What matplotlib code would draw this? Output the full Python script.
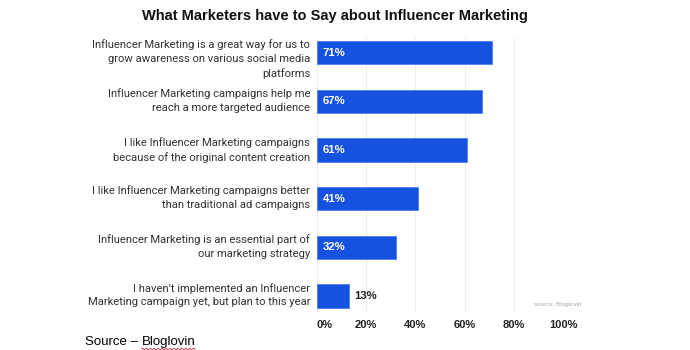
import numpy as np
import matplotlib
matplotlib.use("Agg")
import matplotlib.pyplot as plt

# survey answers, top to bottom
answers = [
    "Influencer Marketing is a great way for us to\ngrow awareness on various social media\nplatforms",
    "Influencer Marketing campaigns help me\nreach a more targeted audience",
    "I like Influencer Marketing campaigns\nbecause of the original content creation",
    "I like Influencer Marketing campaigns better\nthan traditional ad campaigns",
    "Influencer Marketing is an essential part of\nour marketing strategy",
    "I haven\u2019t implemented an Influencer\nMarketing campaign yet, but plan to this year",
]
shares = [71, 67, 61, 41, 32, 13]
xticks = [0, 20, 40, 60, 80, 100]
xtick_labels = ["0%", "20%", "40%", "60%", "80%", "100%"]

narrow = ["Roboto", "Liberation Sans", "DejaVu Sans"]
plain = ["Liberation Sans", "DejaVu Sans"]
bar_color = "#1652e0"

fig = plt.figure(figsize=(6.9, 3.5), dpi=100)
fig.set_facecolor("white")
ax = fig.add_axes([0.4594, 0.1057, 0.3565, 0.7857])

y = np.arange(len(shares))
ax.barh(y, shares, height=0.48, color=bar_color, edgecolor="#4d7fee",
        linewidth=0.6, zorder=3)

ax.set_xlim(0, 100)
ax.set_ylim(5.35, -0.3)
ax.set_xticks(xticks)
ax.set_xticklabels(xtick_labels, fontsize=8, fontweight="bold",
                   color="#222222", family=plain)
ax.get_xticklabels()[0].set_ha("left")
ax.set_yticks([])
ax.tick_params(axis="x", length=0, pad=5)
ax.grid(axis="x", color="#eeeeee", linewidth=0.8, zorder=0)
for s in ax.spines.values():
    s.set_visible(False)

for i, (label, v) in enumerate(zip(answers, shares)):
    ax.text(-2.8, i - 0.27, label, ha="right", va="top", fontsize=8.1,
            color="#333333", family=narrow, linespacing=1.45)
    if v >= 20:
        ax.text(2.3, i, f"{v}%", ha="left", va="center", fontsize=8.2,
                fontweight="bold", color="white", family=plain, zorder=4)
    else:
        ax.text(v + 2.3, i, f"{v}%", ha="left", va="center", fontsize=8.2,
                fontweight="bold", color="#222222", family=plain, zorder=4)

ax.text(1.08, 0.03, "source: Bloglovin'", transform=ax.transAxes,
        ha="right", va="center", fontsize=4.5, color="#aaaaaa", family=plain)

fig.text(0.4855, 0.953, "What Marketers have to Say about Influencer Marketing",
         ha="center", va="center", fontsize=10.5, fontweight="bold",
         color="#111111", family=plain)

# footer: "Source – Bloglovin" with a spell-check squiggle under the name
src = fig.text(85 / 690, 1 - 342 / 350, "Source \u2013 ", ha="left",
               va="center", fontsize=9.5, color="black", family=plain)
fig.canvas.draw()
r = fig.canvas.get_renderer()
bb = src.get_window_extent(r)
name = fig.text(bb.x1 / fig.bbox.width, 1 - 342 / 350, "Bloglovin",
                ha="left", va="center", fontsize=9.5, color="black",
                family=plain)
nb = name.get_window_extent(r)
wx = np.linspace(nb.x0, nb.x1, 40)
wy = nb.y0 - 1.0 + 0.9 * np.sin((wx - nb.x0) * 1.6)
fig.add_artist(plt.Line2D(wx / fig.bbox.width, wy / fig.bbox.height,
                          color="#d03030", linewidth=0.6))

fig.savefig("out.png", dpi=100, facecolor="white")
